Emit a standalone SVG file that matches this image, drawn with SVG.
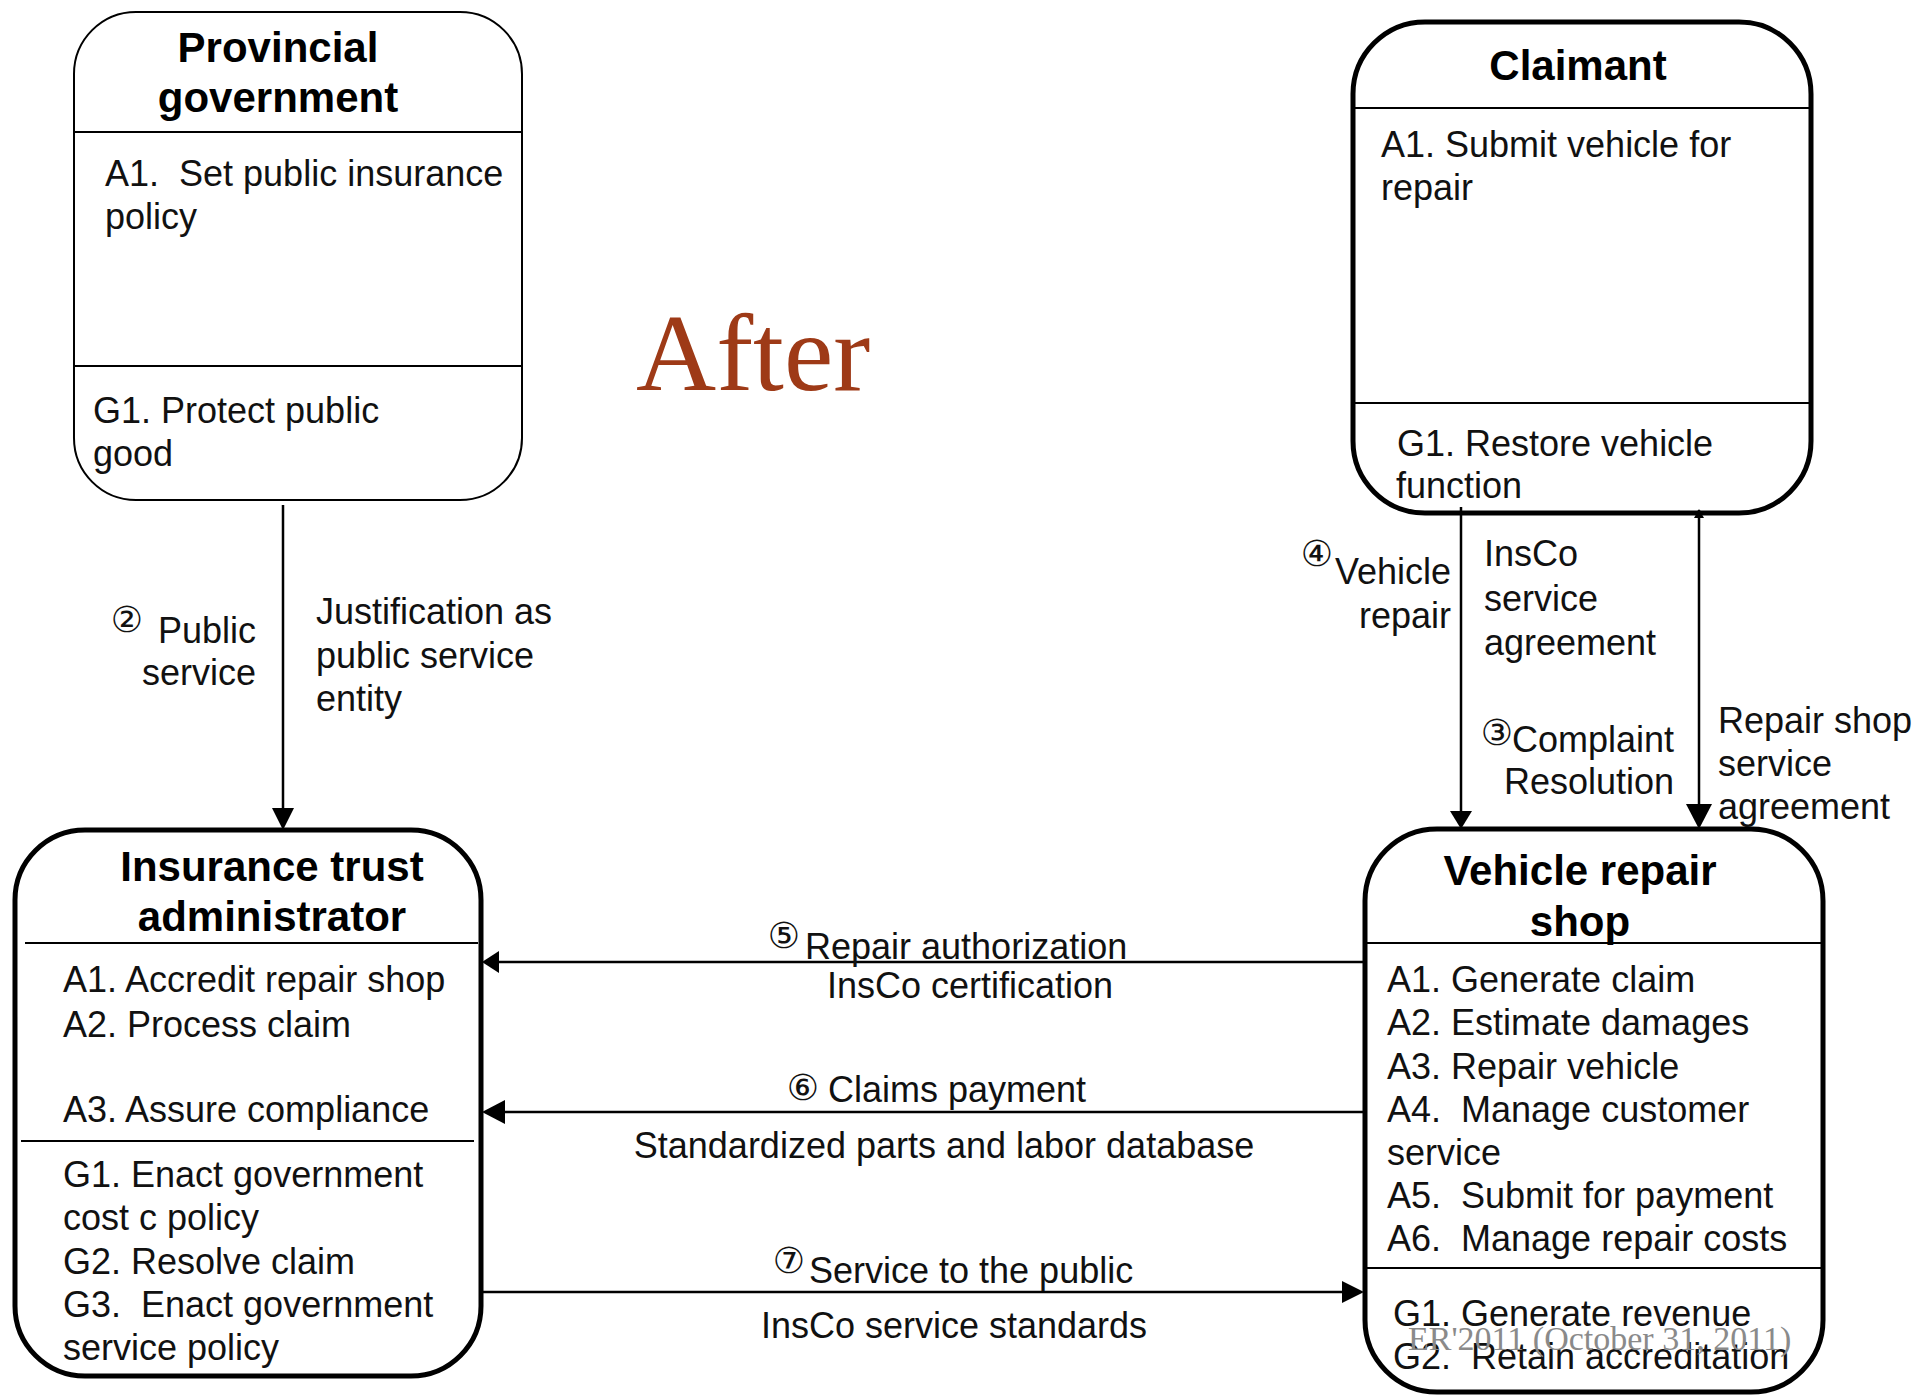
<svg xmlns="http://www.w3.org/2000/svg" width="1923" height="1397" viewBox="0 0 1923 1397">
  <style>
    .box { fill: #ffffff; stroke: #000000; stroke-width: 5; }
    .box-thin { fill: #ffffff; stroke: #000000; stroke-width: 2; }
    .div { stroke: #000000; stroke-width: 2; }
    .title { font-family: "Liberation Sans", Arial, sans-serif; font-weight: bold; font-size: 42px; fill: #000000; text-anchor: middle; }
    .body { font-family: "Liberation Sans", Arial, sans-serif; font-size: 36px; fill: #111111; }
    .lbl { font-family: "Liberation Sans", Arial, sans-serif; font-size: 36px; fill: #111111; }
    .num { font-family: "DejaVu Sans", "Noto Sans CJK JP", sans-serif; font-size: 36px; fill: #111111; text-anchor: middle; }
    .end { text-anchor: end; }
    .mid { text-anchor: middle; }
    .wire { stroke: #000000; stroke-width: 2.5; fill: none; }
    .head { fill: #000000; }
  </style>

  <!-- Heading -->
  <text x="636" y="390" font-family="'Liberation Serif', 'Times New Roman', serif" font-size="111" fill="#9E3A17">After</text>

  <!-- Provincial government -->
  <g id="provincial-government">
    <rect class="box-thin" x="74" y="12" width="448" height="488" rx="62" ry="62"/>
    <line class="div" x1="74" y1="132" x2="522" y2="132"/>
    <line class="div" x1="74" y1="366" x2="522" y2="366"/>
    <text class="title" x="278" y="62">Provincial</text>
    <text class="title" x="278" y="112">government</text>
    <text class="body" x="105" y="186" xml:space="preserve">A1.  Set public insurance</text>
    <text class="body" x="105" y="229">policy</text>
    <text class="body" x="93" y="423">G1. Protect public</text>
    <text class="body" x="93" y="466">good</text>
  </g>

  <!-- Claimant -->
  <g id="claimant">
    <rect class="box" x="1353" y="22" width="458" height="491" rx="72" ry="72"/>
    <line class="div" x1="1353" y1="108" x2="1811" y2="108"/>
    <line class="div" x1="1353" y1="403" x2="1811" y2="403"/>
    <text class="title" x="1578" y="80">Claimant</text>
    <text class="body" x="1381" y="157">A1. Submit vehicle for</text>
    <text class="body" x="1381" y="200">repair</text>
    <text class="body" x="1397" y="456">G1. Restore vehicle</text>
    <text class="body" x="1396" y="498">function</text>
  </g>

  <!-- Insurance trust administrator -->
  <g id="insurance-trust-administrator">
    <rect class="box" x="15" y="830" width="466" height="546" rx="70" ry="70"/>
    <line class="div" x1="25" y1="943" x2="478" y2="943"/>
    <line class="div" x1="21" y1="1141" x2="474" y2="1141"/>
    <text class="title" x="272" y="881">Insurance trust</text>
    <text class="title" x="272" y="931">administrator</text>
    <text class="body" x="63" y="992">A1. Accredit repair shop</text>
    <text class="body" x="63" y="1037">A2. Process claim</text>
    <text class="body" x="63" y="1122">A3. Assure compliance</text>
    <text class="body" x="63" y="1187">G1. Enact government</text>
    <text class="body" x="63" y="1230">cost c policy</text>
    <text class="body" x="63" y="1274">G2. Resolve claim</text>
    <text class="body" x="63" y="1317" xml:space="preserve">G3.  Enact government</text>
    <text class="body" x="63" y="1360">service policy</text>
  </g>

  <!-- Vehicle repair shop -->
  <g id="vehicle-repair-shop">
    <rect class="box" x="1365" y="829" width="458" height="563" rx="72" ry="72"/>
    <line class="div" x1="1365" y1="943" x2="1823" y2="943"/>
    <line class="div" x1="1365" y1="1268" x2="1823" y2="1268"/>
    <text class="title" x="1580" y="885">Vehicle repair</text>
    <text class="title" x="1580" y="936">shop</text>
    <text class="body" x="1387" y="992">A1. Generate claim</text>
    <text class="body" x="1387" y="1035">A2. Estimate damages</text>
    <text class="body" x="1387" y="1079">A3. Repair vehicle</text>
    <text class="body" x="1387" y="1122" xml:space="preserve">A4.  Manage customer</text>
    <text class="body" x="1387" y="1165">service</text>
    <text class="body" x="1387" y="1208" xml:space="preserve">A5.  Submit for payment</text>
    <text class="body" x="1387" y="1251" xml:space="preserve">A6.  Manage repair costs</text>
    <text class="body" x="1393" y="1326">G1. Generate revenue</text>
    <text class="body" x="1393" y="1369" xml:space="preserve">G2.  Retain accreditation</text>
  </g>

  <!-- Connectors -->
  <g id="connectors">
    <!-- 2: provincial government to insurance trust administrator -->
    <line class="wire" x1="283" y1="505" x2="283" y2="812"/>
    <path class="head" d="M272 808 L294 808 L283 830 Z"/>
    <!-- 4: claimant to repair shop -->
    <line class="wire" x1="1461" y1="507" x2="1461" y2="814"/>
    <path class="head" d="M1450 811 L1472 811 L1461 829 Z"/>
    <!-- claimant / repair shop service agreement (both ends) -->
    <line class="wire" x1="1699" y1="510" x2="1699" y2="808"/>
    <path class="head" d="M1686 804 L1712 804 L1699 829 Z"/>
    <path class="head" d="M1694 518 L1704 518 L1699 509 Z"/>
    <!-- 5: repair shop to insurance trust -->
    <line class="wire" x1="1365" y1="962" x2="495" y2="962"/>
    <path class="head" d="M499 951 L499 973 L482 962 Z"/>
    <!-- 6: repair shop to insurance trust -->
    <line class="wire" x1="1365" y1="1112" x2="500" y2="1112"/>
    <path class="head" d="M505 1100 L505 1124 L482 1112 Z"/>
    <!-- 7: insurance trust to repair shop -->
    <line class="wire" x1="481" y1="1292" x2="1348" y2="1292"/>
    <path class="head" d="M1342 1281 L1342 1303 L1364 1292 Z"/>

    <!-- labels -->
    <text class="num" x="127" y="632">②</text>
    <text class="lbl end" x="256" y="643">Public</text>
    <text class="lbl end" x="256" y="685">service</text>
    <text class="lbl" x="316" y="624">Justification as</text>
    <text class="lbl" x="316" y="668">public service</text>
    <text class="lbl" x="316" y="711">entity</text>

    <text class="num" x="1317" y="566">④</text>
    <text class="lbl end" x="1451" y="584">Vehicle</text>
    <text class="lbl end" x="1451" y="628">repair</text>
    <text class="lbl" x="1484" y="566">InsCo</text>
    <text class="lbl" x="1484" y="611">service</text>
    <text class="lbl" x="1484" y="655">agreement</text>
    <text class="num" x="1497" y="745">③</text>
    <text class="lbl end" x="1674" y="752">Complaint</text>
    <text class="lbl end" x="1674" y="794">Resolution</text>
    <text class="lbl" x="1718" y="733">Repair shop</text>
    <text class="lbl" x="1718" y="776">service</text>
    <text class="lbl" x="1718" y="819">agreement</text>

    <text class="num" x="784" y="948">⑤</text>
    <text class="lbl" x="805" y="959">Repair authorization</text>
    <text class="lbl mid" x="970" y="998">InsCo certification</text>
    <text class="num" x="803" y="1100">⑥</text>
    <text class="lbl" x="828" y="1102">Claims payment</text>
    <text class="lbl mid" x="944" y="1158">Standardized parts and labor database</text>
    <text class="num" x="789" y="1273">⑦</text>
    <text class="lbl" x="809" y="1283">Service to the public</text>
    <text class="lbl mid" x="954" y="1338">InsCo service standards</text>
  </g>

  <!-- Footer -->
  <text x="1408" y="1350" font-family="'Liberation Serif', 'Times New Roman', serif" font-size="34" fill="#8a8a8a">ER'2011 (October 31, 2011)</text>
</svg>
